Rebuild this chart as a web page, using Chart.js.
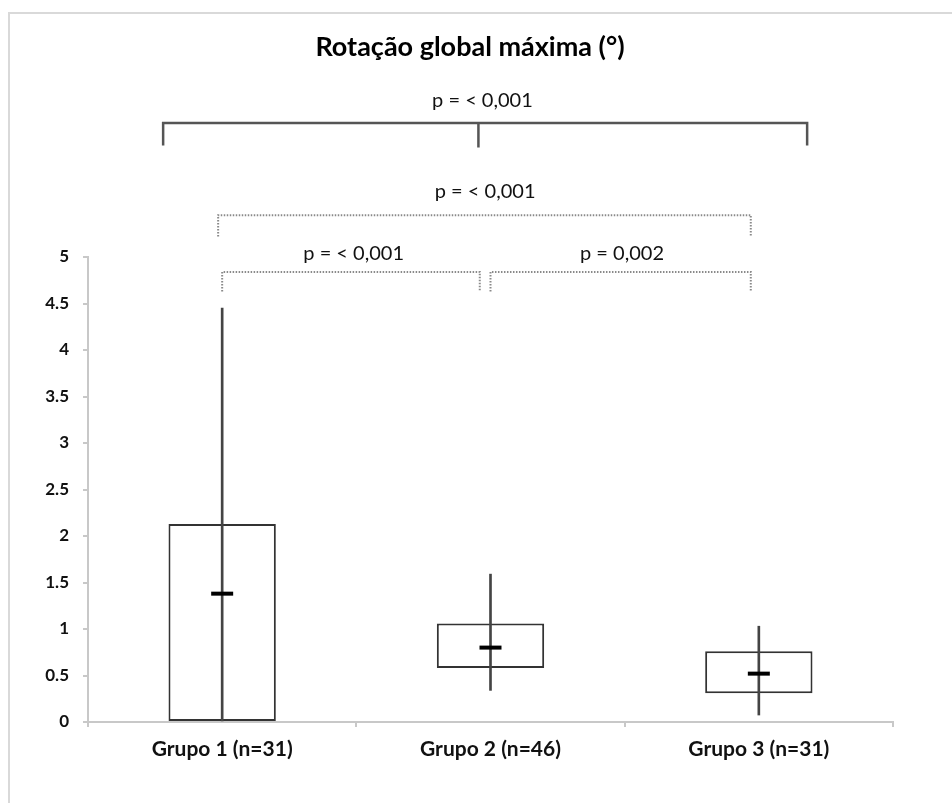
<!DOCTYPE html>
<html>
<head>
<meta charset="utf-8">
<script src="https://cdn.jsdelivr.net/npm/chart.js@4"></script>
<style>
  html, body { margin: 0; padding: 0; background: #fff; }
  #wrap { width: 952px; height: 803px; }
</style>
</head>
<body>
<div id="wrap"><canvas id="c" width="952" height="803"></canvas></div>
<script>
// ---- data ----
const categories = ['Grupo 1 (n=31)', 'Grupo 2 (n=46)', 'Grupo 3 (n=31)'];
const q1 = [0, 0.58, 0.31];
const q3 = [2.13, 1.06, 0.76];
const medians = [1.38, 0.80, 0.52];
const whiskerMin = [0, 0.34, 0.075];
const whiskerMax = [4.45, 1.59, 1.03];
const yTicks = [0, 0.5, 1, 1.5, 2, 2.5, 3, 3.5, 4, 4.5, 5];
const pLabels = ['p = < 0,001', 'p = < 0,001', 'p = < 0,001', 'p = 0,002'];
const chartTitle = 'Rotação global máxima (°)';

const FONT = 'Lato, "Open Sans", sans-serif';

const boxData = categories.map((_, i) => [q1[i], q3[i]]);
const whiskerData = categories.map((_, i) => [whiskerMin[i], whiskerMax[i]]);

// brackets: from/to in category-index units, y levels in value units
const brackets = [
  { label: 0, from: -0.22, to: 2.18, mid: 0.955, y: 6.44, leg: 6.20, ty: 6.68, tx: 0.97, dotted: false },
  { label: 1, from: -0.015, to: 1.97, y: 5.45, leg: 5.22, ty: 5.70, tx: 0.98, dotted: true },
  { label: 2, from: 0.0, to: 0.96, y: 4.84, leg: 4.63, ty: 5.04, tx: 0.49, dotted: true },
  { label: 3, from: 1.0, to: 1.97, y: 4.84, leg: 4.63, ty: 5.04, tx: 1.49, dotted: true }
];

const annotate = {
  id: 'annotate',
  beforeDraw(chart) {
    const ctx = chart.ctx;
    ctx.save();
    ctx.fillStyle = '#fff';
    ctx.fillRect(0, 0, chart.width, chart.height);
    ctx.strokeStyle = '#d9d9d9';
    ctx.lineWidth = 2;
    ctx.beginPath();
    ctx.moveTo(952, 13);
    ctx.lineTo(9, 13);
    ctx.lineTo(9, 803);
    ctx.stroke();
    ctx.restore();
  },
  afterDraw(chart) {
    const ctx = chart.ctx;
    const xs = chart.scales.x, ys = chart.scales.y;
    const step = xs.getPixelForValue(1) - xs.getPixelForValue(0);
    const px = v => xs.getPixelForValue(0) + v * step;
    const py = v => ys.getPixelForValue(v);
    ctx.save();
    // title
    ctx.fillStyle = '#000';
    ctx.font = 'bold 27px ' + FONT;
    ctx.textAlign = 'center';
    ctx.textBaseline = 'middle';
    ctx.fillText(chartTitle, 470, 47);
    brackets.forEach(b => {
      ctx.beginPath();
      if (b.dotted) {
        ctx.setLineDash([1.5, 1.5]);
        ctx.strokeStyle = '#8a8a8a';
        ctx.lineWidth = 2;
      } else {
        ctx.setLineDash([]);
        ctx.strokeStyle = '#555';
        ctx.lineWidth = 2.5;
      }
      ctx.moveTo(px(b.from), py(b.leg));
      ctx.lineTo(px(b.from), py(b.y));
      ctx.lineTo(px(b.to), py(b.y));
      ctx.lineTo(px(b.to), py(b.leg));
      if (b.mid !== undefined) {
        ctx.moveTo(px(b.mid), py(b.y));
        ctx.lineTo(px(b.mid), py(b.leg) + 2);
      }
      ctx.stroke();
      ctx.setLineDash([]);
      ctx.fillStyle = '#111';
      ctx.font = '20px ' + FONT;
      ctx.textAlign = 'center';
      ctx.textBaseline = 'middle';
      ctx.fillText(pLabels[b.label], px(b.tx), py(b.ty));
    });
    ctx.restore();
  }
};

new Chart(document.getElementById('c'), {
  type: 'bar',
  data: {
    labels: categories,
    datasets: [
      {
        type: 'line',
        label: 'Mediana',
        data: medians,
        showLine: false,
        pointStyle: 'line',
        pointRadius: 11,
        pointBorderWidth: 4,
        pointBorderColor: '#000',
        borderColor: '#000',
        order: 1
      },
      {
        label: 'Amplitude',
        data: whiskerData,
        backgroundColor: '#444',
        borderWidth: 0,
        barThickness: 2,
        grouped: false,
        order: 2
      },
      {
        label: 'Intervalo interquartil',
        data: boxData,
        backgroundColor: '#fff',
        borderColor: '#333',
        borderWidth: 2,
        borderSkipped: false,
        barPercentage: 0.4,
        categoryPercentage: 1,
        grouped: false,
        order: 3
      }
    ]
  },
  options: {
    responsive: false,
    animation: false,
    devicePixelRatio: 1,
    layout: { padding: { top: 257, right: 59, bottom: 0, left: 0 } },
    plugins: {
      legend: { display: false },
      tooltip: { enabled: false },
      title: { display: false }
    },
    scales: {
      x: {
        offset: true,
        afterFit(s) { s.height = 81; },
        grid: {
          offset: true,
          drawOnChartArea: false,
          drawTicks: true,
          tickLength: 5,
          color: '#c8c8c8',
          lineWidth: 2
        },
        border: { display: true, color: '#c8c8c8', width: 2 },
        ticks: {
          color: '#111',
          padding: 10,
          font: { family: FONT, size: 21, weight: 'bold' }
        }
      },
      y: {
        min: 0,
        max: 5,
        afterFit(s) { s.width = 88; },
        afterBuildTicks(s) { s.ticks = yTicks.map(v => ({ value: v })); },
        grid: {
          drawOnChartArea: false,
          drawTicks: true,
          tickLength: 5,
          color: '#c8c8c8',
          lineWidth: 2
        },
        border: { display: true, color: '#c8c8c8', width: 2 },
        ticks: {
          color: '#111',
          padding: 14,
          font: { family: FONT, size: 17, weight: 'bold' },
          callback: v => String(v)
        }
      }
    }
  },
  plugins: [annotate]
});
</script>
</body>
</html>
